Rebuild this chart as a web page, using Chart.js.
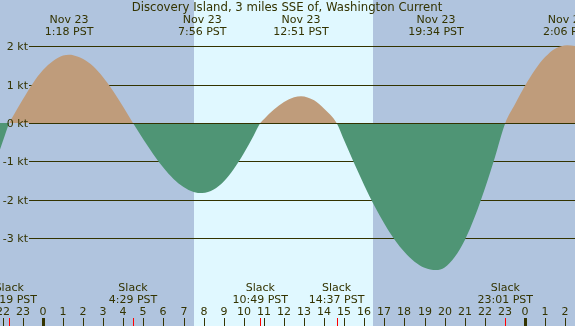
<!DOCTYPE html>
<html>
<head>
<meta charset="utf-8">
<script src="https://cdn.jsdelivr.net/npm/chart.js@4/dist/chart.umd.min.js"></script>
<style>
  html, body { margin: 0; padding: 0; background: #b0c4de; }
  #tideChart { display: block; }
</style>
</head>
<body>
<canvas id="tideChart" width="575" height="326"></canvas>
<script>
/* ===== Data (hours from midnight Nov 23, PST) ===== */
const title = 'Discovery Island, 3 miles SSE of, Washington Current';
const curveHours = [-2.2, -1.9, -1.68, -1.5, -1, -0.5, 0, 0.5, 1, 1.3, 1.5, 2, 2.5, 3, 3.5, 4, 4.48,
  5, 5.5, 6, 6.5, 7, 7.5, 7.93, 8.5, 9, 9.5, 10, 10.5, 10.82,
  11, 11.5, 12, 12.5, 12.85, 13.5, 14, 14.62,
  15, 15.5, 16, 16.5, 17, 17.5, 18, 18.5, 19, 19.57, 20, 20.5, 21, 21.5, 22, 22.5, 23.02,
  23.5, 24, 24.5, 25, 25.5, 26.1, 26.6];
const curveKnots = [-0.78, -0.33, 0, 0.17, 0.62, 1.04, 1.38, 1.62, 1.76, 1.78, 1.77, 1.67, 1.48, 1.19, 0.83, 0.42, 0,
  -0.43, -0.82, -1.17, -1.46, -1.67, -1.80, -1.83, -1.74, -1.53, -1.20, -0.79, -0.32, 0,
  0.10, 0.35, 0.55, 0.67, 0.70, 0.59, 0.37, 0,
  -0.46, -1.06, -1.63, -2.16, -2.63, -3.04, -3.37, -3.62, -3.78, -3.84, -3.77, -3.50, -3.06, -2.45, -1.72, -0.90, 0,
  0.49, 0.97, 1.39, 1.72, 1.94, 2.03, 2.0];

const maxHours  = [1.3, 7.93, 12.85, 19.57, 26.1];
const maxDates  = ['Nov 23', 'Nov 23', 'Nov 23', 'Nov 23', 'Nov 24'];
const maxTimes  = ['1:18 PST', '7:56 PST', '12:51 PST', '19:34 PST', '2:06 PST'];

const slackHours = [-1.68, 4.48, 10.82, 14.62, 23.02];
const slackTimes = ['22:19 PST', '4:29 PST', '10:49 PST', '14:37 PST', '23:01 PST'];

const sunHours = [7.52, 16.43];           // daylight from .. to
const yTicks = [2, 1, 0, -1, -2, -3];
const hourTicks = [-2, -1, 0, 1, 2, 3, 4, 5, 6, 7, 8, 9, 10, 11, 12, 13, 14, 15, 16, 17, 18, 19, 20, 21, 22, 23, 24, 25, 26];

/* ===== Look ===== */
const NIGHT = '#b0c4de';
const DAY   = '#e0f8ff';
const FLOOD = '#bf9c7b';
const EBB   = '#4f9575';
const INK   = '#333300';
const FONT  = '11px "DejaVu Sans"';

const points = curveHours.map((h, i) => ({ x: h, y: curveKnots[i] }));

// background, day band and kt grid go under the fill
const underlay = {
  id: 'underlay',
  beforeDatasetsDraw(chart) {
    const { ctx, scales: { x, y }, width, height } = chart;
    ctx.save();
    ctx.fillStyle = NIGHT;
    ctx.fillRect(0, 0, width, height);
    const x0 = Math.round(x.getPixelForValue(sunHours[0]));
    const x1 = Math.round(x.getPixelForValue(sunHours[1]));
    ctx.fillStyle = DAY;
    ctx.fillRect(x0, 0, x1 - x0, height);

    ctx.strokeStyle = INK;
    ctx.lineWidth = 1;
    yTicks.forEach(v => {
      const py = Math.round(y.getPixelForValue(v)) + 0.5;
      ctx.beginPath();
      ctx.moveTo(29, py);
      ctx.lineTo(width, py);
      ctx.stroke();
    });
    ctx.restore();
  },
};

// zero line, labels and hour ticks on top
const overlay = {
  id: 'overlay',
  afterDatasetsDraw(chart) {
    const { ctx, scales: { x, y }, width } = chart;
    ctx.save();
    ctx.strokeStyle = INK;
    ctx.lineWidth = 1;
    const zy = Math.round(y.getPixelForValue(0)) + 0.5;
    ctx.beginPath();
    ctx.moveTo(29, zy);
    ctx.lineTo(width, zy);
    ctx.stroke();

    ctx.font = FONT;
    ctx.fillStyle = INK;
    ctx.textBaseline = 'middle';

    // kt labels
    ctx.textAlign = 'right';
    yTicks.forEach(v => {
      const py = Math.round(y.getPixelForValue(v));
      ctx.fillText(v + ' kt', 28, py + 1);
    });

    // title + maxima
    ctx.textAlign = 'center';
    ctx.font = '11.7px "DejaVu Sans"';
    ctx.fillText(title, 287, 8);
    ctx.font = FONT;
    maxHours.forEach((h, i) => {
      const px = x.getPixelForValue(h);
      ctx.fillText(maxDates[i], px, 20);
      ctx.fillText(maxTimes[i], px, 32);
    });

    // slack labels
    slackHours.forEach((h, i) => {
      const px = x.getPixelForValue(h);
      ctx.fillText('Slack', px, 288);
      ctx.fillText(slackTimes[i], px, 300);
    });

    // hour numbers + ticks
    hourTicks.forEach(h => {
      const px = Math.round(x.getPixelForValue(h));
      const label = String(((h % 24) + 24) % 24);
      ctx.fillStyle = INK;
      ctx.fillText(label, px, 312);
      const midnight = h % 24 === 0;
      ctx.fillRect(midnight ? px - 1 : px, 318, midnight ? 3 : 1, 8);
    });

    ctx.fillStyle = '#ff0000';
    slackHours.forEach(h => {
      const px = Math.round(x.getPixelForValue(h));
      ctx.fillRect(px, 318, 1, 8);
    });
    ctx.restore();
  },
};

new Chart(document.getElementById('tideChart'), {
  type: 'line',
  data: {
    datasets: [{
      data: points,
      borderWidth: 0,
      borderColor: 'rgba(0,0,0,0)',
      pointRadius: 0,
      cubicInterpolationMode: 'monotone',
      fill: { target: 'origin', above: FLOOD, below: EBB },
    }],
  },
  options: {
    responsive: false,
    animation: false,
    devicePixelRatio: 1,
    layout: { padding: 0 },
    plugins: { legend: { display: false }, tooltip: { enabled: false } },
    scales: {
      x: { type: 'linear', min: -2.14, max: 26.49, display: false },
      y: { min: -5.30, max: 3.21, display: false },
    },
  },
  plugins: [underlay, overlay],
});
</script>
</body>
</html>
